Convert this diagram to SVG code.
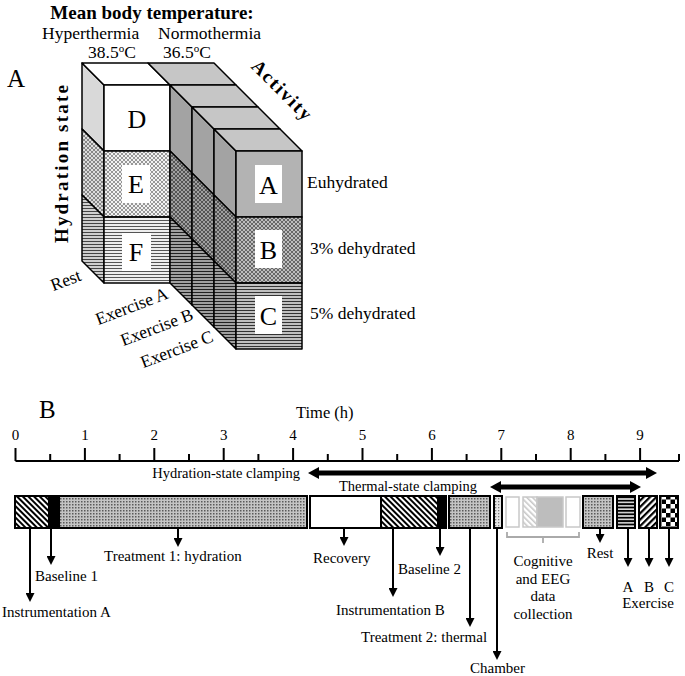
<svg xmlns="http://www.w3.org/2000/svg" width="685" height="676" viewBox="0 0 685 676" font-family="'Liberation Serif', 'DejaVu Serif', serif">
<style>
text{font-family:"Liberation Serif","DejaVu Serif",serif;fill:#000}
.b{font-weight:bold}
.f{stroke:#000;stroke-width:1.5;stroke-linejoin:round}
.bar{stroke:#000;stroke-width:2}
.lb{stroke:#c8c8c8;stroke-width:1.5}
.dn{stroke:#000;stroke-width:2;fill:none;marker-end:url(#ah)}
.tk{stroke:#000;stroke-width:2}
.t15{font-size:15px}
</style>
<defs>
<pattern id="xhL" width="4" height="4" patternUnits="userSpaceOnUse"><rect width="4" height="4" fill="#f2f2f2"/><path d="M0,0L4,4M4,0L0,4" stroke="#808080" stroke-width="0.8"/></pattern>
<pattern id="xhM" width="4" height="4" patternUnits="userSpaceOnUse"><rect width="4" height="4" fill="#dcdcdc"/><path d="M0,0L4,4M4,0L0,4" stroke="#707070" stroke-width="0.8"/></pattern>
<pattern id="xhD" width="4" height="4" patternUnits="userSpaceOnUse"><rect width="4" height="4" fill="#bdbdbd"/><path d="M0,0L4,4M4,0L0,4" stroke="#505050" stroke-width="0.8"/></pattern>
<pattern id="xhDD" width="4" height="4" patternUnits="userSpaceOnUse"><rect width="4" height="4" fill="#a0a0a0"/><path d="M0,0L4,4M4,0L0,4" stroke="#404040" stroke-width="0.8"/></pattern>
<pattern id="hlL" width="4" height="3" patternUnits="userSpaceOnUse"><rect width="4" height="3" fill="#eeeeee"/><path d="M0,1.5H4" stroke="#555" stroke-width="1"/></pattern>
<pattern id="hlM" width="4" height="3" patternUnits="userSpaceOnUse"><rect width="4" height="3" fill="#cfcfcf"/><path d="M0,1.5H4" stroke="#444" stroke-width="1"/></pattern>
<pattern id="hlD" width="4" height="3" patternUnits="userSpaceOnUse"><rect width="4" height="3" fill="#c0c0c0"/><path d="M0,1.5H4" stroke="#333" stroke-width="1"/></pattern>
<pattern id="hlDD" width="4" height="3" patternUnits="userSpaceOnUse"><rect width="4" height="3" fill="#a0a0a0"/><path d="M0,1.5H4" stroke="#222" stroke-width="1"/></pattern>
<pattern id="bs" width="4" height="10" patternUnits="userSpaceOnUse" patternTransform="rotate(-45)"><rect width="4" height="10" fill="#fff"/><rect width="2" height="10" fill="#000"/></pattern>
<pattern id="fs" width="4.5" height="10" patternUnits="userSpaceOnUse" patternTransform="rotate(45)"><rect width="4.5" height="10" fill="#fff"/><rect width="2.2" height="10" fill="#000"/></pattern>
<pattern id="lbs" width="4" height="10" patternUnits="userSpaceOnUse" patternTransform="rotate(-45)"><rect width="4" height="10" fill="#fff"/><rect width="1.6" height="10" fill="#c8c8c8"/></pattern>
<pattern id="tex" width="3" height="3" patternUnits="userSpaceOnUse"><rect width="3" height="3" fill="#c4c4c4"/><rect width="1.5" height="1.5" fill="#5a5a5a"/></pattern>
<pattern id="dot" width="3" height="3" patternUnits="userSpaceOnUse"><rect width="3" height="3" fill="#e6e6e6"/><rect width="1.3" height="1.3" fill="#7a7a7a"/></pattern>
<pattern id="hlB" width="4" height="3.4" patternUnits="userSpaceOnUse"><rect width="4" height="3.4" fill="#ddd"/><rect width="4" height="1.8" fill="#000"/></pattern>
<pattern id="chk" width="9" height="9" patternUnits="userSpaceOnUse"><rect width="9" height="9" fill="#fff"/><rect width="4.5" height="4.5" fill="#000"/><rect x="4.5" y="4.5" width="4.5" height="4.5" fill="#000"/></pattern>
<marker id="ah" markerUnits="userSpaceOnUse" markerWidth="9" markerHeight="9" refX="4" refY="4.5" orient="auto" viewBox="0 0 9 9"><path d="M0,0L9,4.5L0,9z" fill="#000"/></marker>
<marker id="bh" markerUnits="userSpaceOnUse" markerWidth="11" markerHeight="12" refX="4" refY="6" orient="auto-start-reverse" viewBox="0 0 11 12"><path d="M0,0L11,6L0,12z" fill="#000"/></marker>
</defs>

<!-- Panel A titles -->
<text class="b" x="152" y="19" font-size="19" text-anchor="middle">Mean body temperature:</text>
<text x="42" y="39" font-size="17.5">Hyperthermia</text>
<text x="158" y="39" font-size="17.5">Normothermia</text>
<text x="88" y="58" font-size="17.5">38.5<tspan font-size="11" dy="-6">o</tspan><tspan dy="6">C</tspan></text>
<text x="163" y="58" font-size="17.5">36.5<tspan font-size="11" dy="-6">o</tspan><tspan dy="6">C</tspan></text>
<text x="7" y="87" font-size="25">A</text>
<text class="b" font-size="19" letter-spacing="2.2" text-anchor="middle" transform="translate(68,163) rotate(-90)">Hydration state</text>
<text class="b" font-size="19" letter-spacing="1.8" text-anchor="middle" transform="translate(278,95) rotate(45)">Activity</text>

<!-- Hyperthermia column (Rest) -->
<g id="hyper">
<path class="f" d="M82,63L104,85V151L82,129Z" fill="#d9d9d9"/>
<path class="f" d="M82,129L104,151V217L82,195Z" fill="url(#xhM)"/>
<path class="f" d="M82,195L104,217V283L82,261Z" fill="url(#hlM)"/>
<path class="f" d="M82,63H148L170,85H104Z" fill="#fff"/>
</g>
<g id="node-D"><rect class="f" x="104" y="85" width="66" height="66" fill="#fff"/><text x="137" y="128" font-size="26" text-anchor="middle">D</text></g>
<g id="node-E"><rect class="f" x="104" y="151" width="66" height="66" fill="url(#xhL)"/><rect x="122" y="165" width="28" height="38" fill="#fff"/><text x="136" y="193" font-size="26" text-anchor="middle">E</text></g>
<g id="node-F"><rect class="f" x="104" y="217" width="66" height="66" fill="url(#hlL)"/><rect x="122" y="233" width="29" height="38" fill="#fff"/><text x="136" y="261" font-size="26" text-anchor="middle">F</text></g>

<!-- Normothermia column -->
<g id="normo">
<path class="f" d="M148,63H214L236,85H170Z" fill="#c6c6c6"/>
<path class="f" d="M170,85L192,107V173L170,151Z" fill="#a3a3a3"/>
<path class="f" d="M170,151L192,173V239L170,217Z" fill="url(#xhDD)"/>
<path class="f" d="M170,217L192,239V305L170,283Z" fill="url(#hlDD)"/>
<path class="f" d="M170,85H236L258,107H192Z" fill="#c6c6c6"/>
<path class="f" d="M192,107L214,129V195L192,173Z" fill="#a3a3a3"/>
<path class="f" d="M192,173L214,195V261L192,239Z" fill="url(#xhDD)"/>
<path class="f" d="M192,239L214,261V327L192,305Z" fill="url(#hlDD)"/>
<path class="f" d="M192,107H258L280,129H214Z" fill="#c6c6c6"/>
<path class="f" d="M214,129L236,151V217L214,195Z" fill="#a3a3a3"/>
<path class="f" d="M214,195L236,217V283L214,261Z" fill="url(#xhDD)"/>
<path class="f" d="M214,261L236,283V349L214,327Z" fill="url(#hlDD)"/>
<path class="f" d="M214,129H280L302,151H236Z" fill="#c6c6c6"/>
</g>
<g id="node-A"><rect class="f" x="236" y="151" width="66" height="66" fill="#b3b3b3"/><rect x="255" y="165" width="27" height="38" fill="#fff"/><text x="268.5" y="194" font-size="26" text-anchor="middle">A</text></g>
<g id="node-B"><rect class="f" x="236" y="217" width="66" height="66" fill="url(#xhD)"/><rect x="255" y="230" width="27" height="38" fill="#fff"/><text x="268.5" y="259" font-size="26" text-anchor="middle">B</text></g>
<g id="node-C"><rect class="f" x="236" y="283" width="66" height="66" fill="url(#hlD)"/><rect x="255" y="296" width="27" height="38" fill="#fff"/><text x="268.5" y="325" font-size="26" text-anchor="middle">C</text></g>

<text x="307" y="188" font-size="17.5">Euhydrated</text>
<text x="310" y="254" font-size="17.5">3% dehydrated</text>
<text x="310" y="319" font-size="17.5">5% dehydrated</text>
<text font-size="17.5" text-anchor="middle" transform="translate(66,281) rotate(-21)" y="5">Rest</text>
<text font-size="17.5" text-anchor="middle" transform="translate(132,307) rotate(-21)" y="5">Exercise A</text>
<text font-size="17.5" text-anchor="middle" transform="translate(157,328) rotate(-21)" y="5">Exercise B</text>
<text font-size="17.5" text-anchor="middle" transform="translate(177,350) rotate(-21)" y="5">Exercise C</text>

<!-- Panel B -->
<text x="39" y="418" font-size="25">B</text>
<text x="296" y="418" font-size="16.5">Time (h)</text>
<g id="axis">
<path class="tk" d="M15.5,461H679"/>
<path class="tk" d="M15.5,448V461M84.9,448V461M154.3,448V461M223.7,448V461M293.1,448V461M362.5,448V461M431.9,448V461M501.3,448V461M570.7,448V461M640.1,448V461"/>
<path class="tk" d="M50.2,454V461M119.6,454V461M189,454V461M258.4,454V461M327.8,454V461M397.2,454V461M466.6,454V461M536,454V461M605.4,454V461M679,454V461"/>
<g class="t15" text-anchor="middle">
<text x="15.5" y="440">0</text><text x="84.9" y="440">1</text><text x="154.3" y="440">2</text><text x="223.7" y="440">3</text><text x="293.1" y="440">4</text><text x="362.5" y="440">5</text><text x="431.9" y="440">6</text><text x="501.3" y="440">7</text><text x="570.7" y="440">8</text><text x="640.1" y="440">9</text>
</g>
</g>

<text x="300" y="478" font-size="14.5" text-anchor="end">Hydration-state  clamping</text>
<text x="339" y="491" font-size="14.5">Thermal-state  clamping</text>

<!-- timeline blocks -->
<g id="block-instA"><rect x="15" y="496" width="33" height="32" fill="url(#bs)"/><rect x="48" y="496" width="9" height="32" fill="#000"/><rect class="bar" x="15" y="496" width="42" height="32" fill="none"/></g>
<g id="block-treat1"><rect class="bar" x="59" y="496" width="248" height="32" fill="url(#tex)"/></g>
<g id="block-recovery"><rect x="310" y="496" width="71" height="32" fill="#fff"/><rect x="381" y="496" width="56" height="32" fill="url(#bs)"/><rect x="437" y="496" width="9" height="32" fill="#000"/><path class="bar" d="M381,496V528" fill="none"/><rect class="bar" x="310" y="496" width="136" height="32" fill="none"/></g>
<g id="block-treat2"><rect class="bar" x="449" y="496" width="41" height="32" fill="url(#tex)"/></g>
<g id="block-chamber"><rect class="bar" x="494" y="496" width="8" height="32" fill="url(#dot)"/></g>
<g id="block-cognitive">
<rect class="lb" x="506" y="497" width="13" height="30" fill="#fff"/>
<rect class="lb" x="523" y="497" width="14" height="30" fill="url(#lbs)"/>
<rect class="lb" x="537" y="497" width="26" height="30" fill="#bdbdbd"/>
<rect class="lb" x="566" y="497" width="14" height="30" fill="#fff"/>
</g>
<g id="block-rest"><rect class="bar" x="583" y="496" width="30" height="32" fill="url(#tex)"/></g>
<g id="block-exA"><rect class="bar" x="617" y="496" width="18" height="32" fill="url(#hlB)"/></g>
<g id="block-exB"><rect class="bar" x="639" y="496" width="18" height="32" fill="url(#fs)"/></g>
<g id="block-exC"><rect class="bar" x="660" y="496" width="18" height="32" fill="url(#chk)"/></g>

<g id="connectors">
<path d="M315,473H650" stroke="#000" stroke-width="5" marker-start="url(#bh)" marker-end="url(#bh)"/>
<path d="M497,487H634" stroke="#000" stroke-width="5" marker-start="url(#bh)" marker-end="url(#bh)"/>
<path d="M507,532V537H579V532M543,537V543" stroke="#aaa" stroke-width="1.8" fill="none"/>
<path class="dn" d="M30,528V597"/>
<path class="dn" d="M51,528V560"/>
<path class="dn" d="M178,528V542"/>
<path class="dn" d="M344,528V541"/>
<path class="dn" d="M393,528V592"/>
<path class="dn" d="M440,528V551"/>
<path class="dn" d="M470,528V622"/>
<path class="dn" d="M497,528V655"/>
<path class="dn" d="M600,528V538"/>
<path class="dn" d="M628,528V562"/>
<path class="dn" d="M649,528V562"/>
<path class="dn" d="M669,528V562"/>
</g>

<g class="t15">
<text x="2" y="617">Instrumentation  A</text>
<text x="35" y="581">Baseline  1</text>
<text x="104" y="561">Treatment  1: hydration</text>
<text x="313" y="563">Recovery</text>
<text x="398" y="574">Baseline  2</text>
<text x="336" y="615">Instrumentation  B</text>
<text x="361" y="642">Treatment  2: thermal</text>
<text x="470" y="673">Chamber</text>
<text x="543" y="566" text-anchor="middle">Cognitive</text>
<text x="543" y="584" text-anchor="middle">and EEG</text>
<text x="543" y="601" text-anchor="middle">data</text>
<text x="543" y="619" text-anchor="middle">collection</text>
<text x="600" y="558" text-anchor="middle">Rest</text>
<text x="628" y="592" text-anchor="middle">A</text>
<text x="649" y="592" text-anchor="middle">B</text>
<text x="669" y="592" text-anchor="middle">C</text>
<text x="648" y="608" text-anchor="middle">Exercise</text>
</g>
</svg>
